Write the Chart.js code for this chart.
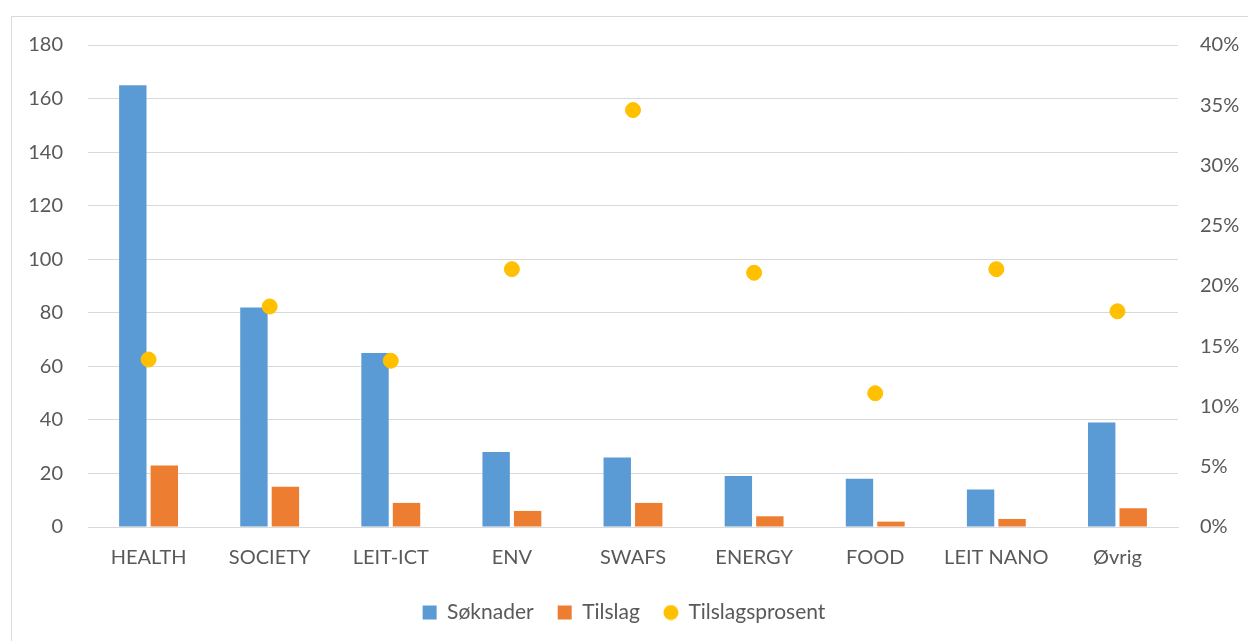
<!DOCTYPE html>
<html>
<head>
<meta charset="utf-8">
<script src="https://cdn.jsdelivr.net/npm/chart.js@4/dist/chart.umd.min.js"></script>
<style>
  html, body { margin: 0; padding: 0; background: #fff; }
  #wrap { position: relative; width: 1248px; height: 641px; overflow: hidden; }
  #frame { position: absolute; left: 11px; top: 16px; width: 1300px; height: 700px; border: 1px solid #d9d9d9; }
  canvas { position: absolute; left: 0; top: 0; }
</style>
</head>
<body>
<div id="wrap">
  <div id="frame"></div>
  <canvas id="myChart" width="1248" height="641"></canvas>
</div>
<script>
var categories = ['HEALTH', 'SOCIETY', 'LEIT-ICT', 'ENV', 'SWAFS', 'ENERGY', 'FOOD', 'LEIT NANO', 'Øvrig'];
var soknader = [165, 82, 65, 28, 26, 19, 18, 14, 39];
var tilslag = [23, 15, 9, 6, 9, 4, 2, 3, 7];
// Tilslagsprosent (in %)
var prosent = [13.9, 18.3, 13.8, 21.4, 34.6, 21.1, 11.1, 21.4, 17.9];
var leftTicks = [0, 20, 40, 60, 80, 100, 120, 140, 160, 180];
var rightTicks = [0, 5, 10, 15, 20, 25, 30, 35, 40];

var colors = ['#5b9bd5', '#ed7d31', '#ffc000'];
var font = { family: 'Lato, "Open Sans", sans-serif', size: 20 };
var legendFont = { family: 'Lato, "Open Sans", sans-serif', size: 21 };
var grey = '#595959';

// small legend markers: squares for the bars, a dot for the scatter
function marker(color, round) {
    var c = document.createElement('canvas');
    c.width = 16; c.height = 16;
    var m = c.getContext('2d');
    m.fillStyle = color;
    if (round) {
        m.beginPath();
        m.arc(8, 8, 7.5, 0, Math.PI * 2);
        m.fill();
    } else {
        m.fillRect(1, 1, 14, 14);
    }
    return c;
}
var markers = [marker(colors[0]), marker(colors[1]), marker(colors[2], true)];

var ctx = document.getElementById('myChart').getContext('2d');

var myChart = new Chart(ctx, {
  type: 'bar',
  data: {
    labels: categories,
    datasets: [{
      label: 'Søknader',
      data: soknader,
      backgroundColor: colors[0],
      yAxisID: 'y',
      order: 2
    }, {
      label: 'Tilslag',
      data: tilslag,
      backgroundColor: colors[1],
      yAxisID: 'y',
      order: 2
    }, {
      type: 'line',
      label: 'Tilslagsprosent',
      data: prosent,
      showLine: false,
      pointStyle: 'circle',
      pointRadius: 7.5,
      pointBackgroundColor: colors[2],
      pointBorderColor: colors[2],
      backgroundColor: colors[2],
      borderColor: colors[2],
      yAxisID: 'y1',
      order: 1
    }]
  },
  options: {
    responsive: false,
    animation: false,
    categoryPercentage: 0.52,
    barPercentage: 0.87,
    layout: { padding: { top: 45, bottom: 8, left: 0, right: 0 } },
    plugins: {
      tooltip: { enabled: false },
      legend: {
        position: 'bottom',
        labels: {
          usePointStyle: true,
          boxWidth: 14,
          boxHeight: 14,
          padding: 24,
          color: grey,
          font: legendFont,
          sort: function(a, b) { return a.datasetIndex - b.datasetIndex; },
          generateLabels: function(chart) {
            var items = Chart.defaults.plugins.legend.labels.generateLabels(chart);
            items.forEach(function(it) { it.pointStyle = markers[it.datasetIndex]; });
            return items;
          }
        }
      }
    },
    scales: {
      x: {
        grid: { display: false, drawTicks: false },
        border: { display: true, color: '#d9d9d9' },
        ticks: { color: grey, font: font, padding: 19 },
        afterFit: function(scale) { scale.height = 51; }
      },
      y: {
        position: 'left',
        min: 0,
        max: 180,
        afterBuildTicks: function(scale) { scale.ticks = leftTicks.map(function(v) { return { value: v }; }); },
        grid: { color: '#d9d9d9', drawTicks: false },
        border: { display: false },
        ticks: { color: grey, font: font, padding: 25 },
        afterFit: function(scale) { scale.width = 88; }
      },
      y1: {
        position: 'right',
        min: 0,
        max: 40,
        afterBuildTicks: function(scale) { scale.ticks = rightTicks.map(function(v) { return { value: v }; }); },
        grid: { display: false, drawTicks: false },
        border: { display: false },
        ticks: { color: grey, font: font, padding: 22, callback: function(v) { return v + '%'; } },
        afterFit: function(scale) { scale.width = 70; }
      }
    }
  }
});
</script>
</body>
</html>
